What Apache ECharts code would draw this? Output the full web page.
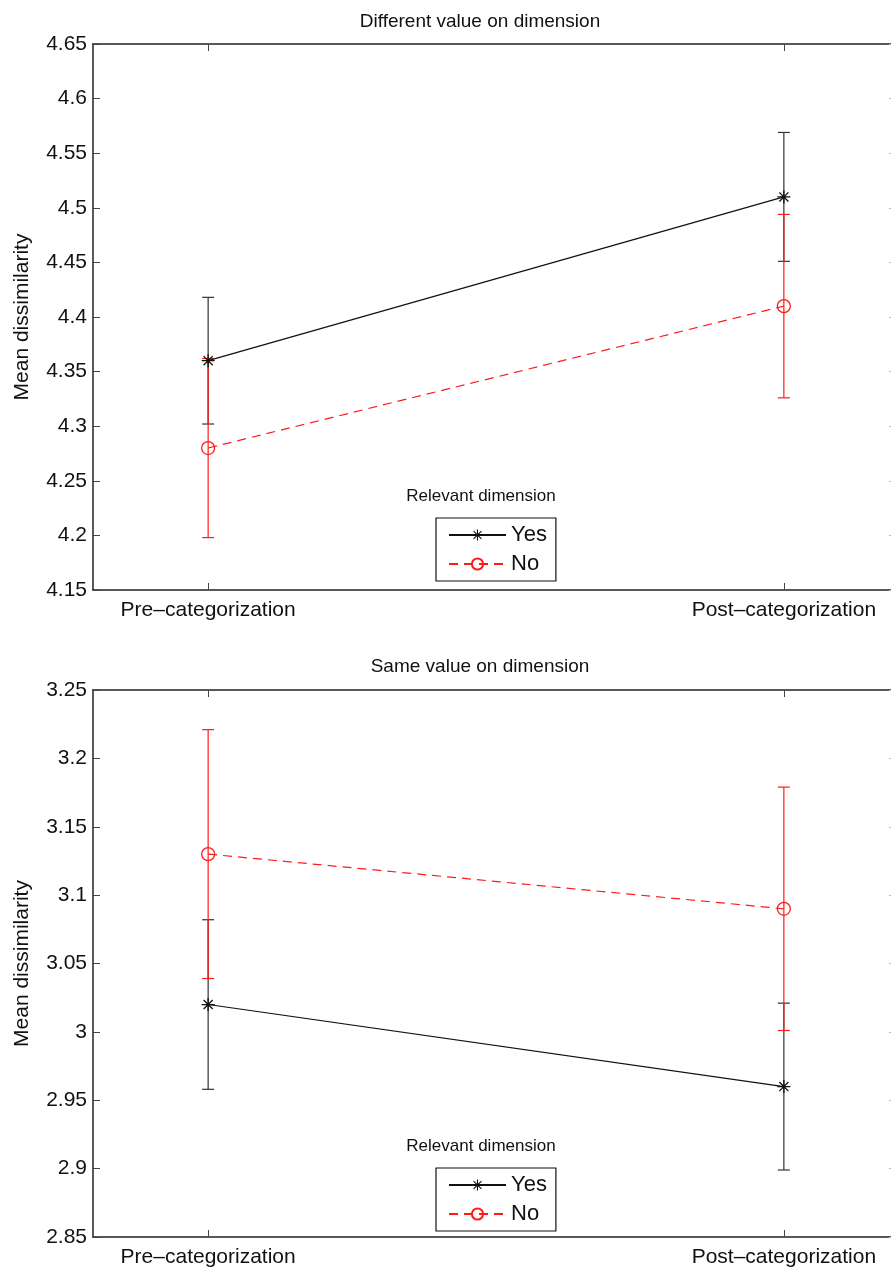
<!DOCTYPE html>
<html>
<head>
<meta charset="utf-8">
<script src="https://cdn.jsdelivr.net/npm/echarts@6/dist/echarts.min.js"></script>
<style>
  html, body { margin: 0; padding: 0; background: #fff; }
  #chart { width: 891px; height: 1271px; }
</style>
</head>
<body>
<div id="chart"></div>
<script>
  // categories on the x axis (placed at x = 1 and x = 2)
  let categories = ['Pre–categorization', 'Post–categorization']
  let catPos = [1, 2]

  // top panel: different value on dimension
  let diffYesMean = [4.36, 4.51]
  let diffYesErr = [0.058, 0.059]
  let diffNoMean = [4.28, 4.41]
  let diffNoErr = [0.082, 0.084]

  // bottom panel: same value on dimension
  let sameYesMean = [3.02, 2.96]
  let sameYesErr = [0.062, 0.061]
  let sameNoMean = [3.13, 3.09]
  let sameNoErr = [0.091, 0.089]

  let panelTitles = ['Different value on dimension', 'Same value on dimension']
  let legendTitle = 'Relevant dimension'
  let yRanges = [[4.15, 4.65], [2.85, 3.25]]
  let yStep = 0.05

  let font = '"Liberation Sans", Arial, Helvetica, sans-serif'
  let colors = ['#111111', '#ff1a1a']

  // asterisk marker (+ and x overlaid)
  let starPath = 'path://M-1,-10L1,-10L1,10L-1,10Z' +
    'M-10,-1L10,-1L10,1L-10,1Z' +
    'M-6.3,-7.7L7.7,6.3L6.3,7.7L-7.7,-6.3Z' +
    'M-7.7,6.3L6.3,-7.7L7.7,-6.3L-6.3,7.7Z'

  let chart = echarts.init(document.getElementById('chart'))

  function pairs(means) {
    return means.map((m, i) => [catPos[i], m])
  }
  function errData(means, errs) {
    return means.map((m, i) => [catPos[i], m - errs[i], m + errs[i]])
  }

  function errorBarSeries(name, means, errs, color, axisIdx) {
    return {
      name: name,
      type: 'custom',
      xAxisIndex: axisIdx * 2,
      yAxisIndex: axisIdx * 2,
      silent: true,
      z: 3,
      data: errData(means, errs),
      renderItem: function (params, api) {
        let lo = api.coord([api.value(0), api.value(1)])
        let hi = api.coord([api.value(0), api.value(2)])
        let w = 6
        let st = { stroke: color, lineWidth: 1.2 }
        return {
          type: 'group',
          children: [
            { type: 'line', shape: { x1: lo[0], y1: lo[1], x2: hi[0], y2: hi[1] }, style: st },
            { type: 'line', shape: { x1: lo[0] - w, y1: lo[1], x2: lo[0] + w, y2: lo[1] }, style: st },
            { type: 'line', shape: { x1: hi[0] - w, y1: hi[1], x2: hi[0] + w, y2: hi[1] }, style: st }
          ]
        }
      }
    }
  }

  function yesSeries(means, axisIdx) {
    return {
      name: 'Yes',
      type: 'line',
      xAxisIndex: axisIdx * 2,
      yAxisIndex: axisIdx * 2,
      data: pairs(means),
      color: colors[0],
      symbol: starPath,
      symbolSize: 13,
      itemStyle: { color: colors[0] },
      lineStyle: { color: colors[0], width: 1.2 },
      z: 4
    }
  }

  function noSeries(means, axisIdx) {
    return {
      name: 'No',
      type: 'line',
      xAxisIndex: axisIdx * 2,
      yAxisIndex: axisIdx * 2,
      data: pairs(means),
      color: colors[1],
      symbol: 'circle',
      symbolSize: 13,
      itemStyle: { color: 'rgba(255,255,255,0)', borderColor: colors[1], borderWidth: 1.3 },
      lineStyle: { color: colors[1], width: 1.2, type: [9, 6] },
      z: 4
    }
  }

  // the right edge of the axes lies just past the window, as in the original
  let grids = [
    { left: 93, width: 806, top: 44, height: 546, containLabel: false, outerBoundsMode: 'none' },
    { left: 93, width: 806, top: 690, height: 547, containLabel: false, outerBoundsMode: 'none' }
  ]

  let xAxes = []
  let yAxes = []
  grids.forEach((g, i) => {
    xAxes.push({
      type: 'value', gridIndex: i, position: 'bottom', min: 0.8, max: 2.2,
      splitLine: { show: false },
      axisLine: { show: true, lineStyle: { color: '#222', width: 1.5 } },
      axisTick: { show: true, inside: true, length: 7, customValues: catPos, lineStyle: { color: '#444' } },
      axisLabel: {
        customValues: catPos, margin: 10, color: '#111', fontFamily: font, fontSize: 21,
        formatter: v => categories[catPos.indexOf(v)] || ''
      }
    })
    xAxes.push({
      type: 'value', gridIndex: i, position: 'top', min: 0.8, max: 2.2,
      splitLine: { show: false },
      axisLine: { show: true, lineStyle: { color: '#222', width: 1.5 } },
      axisTick: { show: true, inside: true, length: 7, customValues: catPos, lineStyle: { color: '#444' } },
      axisLabel: { show: false }
    })
    yAxes.push({
      type: 'value', gridIndex: i, position: 'left',
      min: yRanges[i][0], max: yRanges[i][1], interval: yStep,
      name: 'Mean dissimilarity', nameLocation: 'middle', nameGap: 60,
      nameTextStyle: { fontFamily: font, fontSize: 21, color: '#111' },
      splitLine: { show: false },
      axisLine: { show: true, lineStyle: { color: '#222', width: 1.5 } },
      axisTick: { show: true, inside: true, length: 7, lineStyle: { color: '#444' } },
      axisLabel: { margin: 6, color: '#111', fontFamily: font, fontSize: 21 }
    })
    yAxes.push({
      type: 'value', gridIndex: i, position: 'right',
      min: yRanges[i][0], max: yRanges[i][1], interval: yStep,
      splitLine: { show: false },
      axisLine: { show: false },
      axisTick: { show: true, inside: true, length: 10, lineStyle: { color: '#bbb' } },
      axisLabel: { show: false }
    })
  })

  let legends = [518, 1168].map(top => ({
    orient: 'vertical',
    left: 436,
    top: top,
    data: ['Yes', 'No'],
    itemWidth: 57,
    itemHeight: 14,
    itemGap: 7,
    padding: [6, 9, 6, 12],
    backgroundColor: '#fff',
    borderColor: '#111',
    borderWidth: 1.2,
    borderRadius: 0,
    selectedMode: false,
    textStyle: { fontFamily: font, fontSize: 22, color: '#111' }
  }))

  let textEls = [
    { x: 480, y: 22, text: panelTitles[0], size: 19 },
    { x: 480, y: 667, text: panelTitles[1], size: 19 },
    { x: 481, y: 496, text: legendTitle, size: 17 },
    { x: 481, y: 1146, text: legendTitle, size: 17 }
  ].map(t => ({
    type: 'text', x: t.x, y: t.y, z: 100,
    style: { text: t.text, fill: '#111', font: t.size + 'px ' + font, textAlign: 'center', textVerticalAlign: 'middle' }
  }))

  let optionData = {
    animation: false,
    backgroundColor: '#fff',
    grid: grids,
    xAxis: xAxes,
    yAxis: yAxes,
    legend: legends,
    graphic: textEls,
    series: [
      errorBarSeries('Yes err', diffYesMean, diffYesErr, '#333', 0),
      errorBarSeries('No err', diffNoMean, diffNoErr, colors[1], 0),
      yesSeries(diffYesMean, 0),
      noSeries(diffNoMean, 0),
      errorBarSeries('Yes err', sameYesMean, sameYesErr, '#333', 1),
      errorBarSeries('No err', sameNoMean, sameNoErr, colors[1], 1),
      yesSeries(sameYesMean, 1),
      noSeries(sameNoMean, 1)
    ]
  }

  chart.setOption(optionData)
</script>
</body>
</html>
